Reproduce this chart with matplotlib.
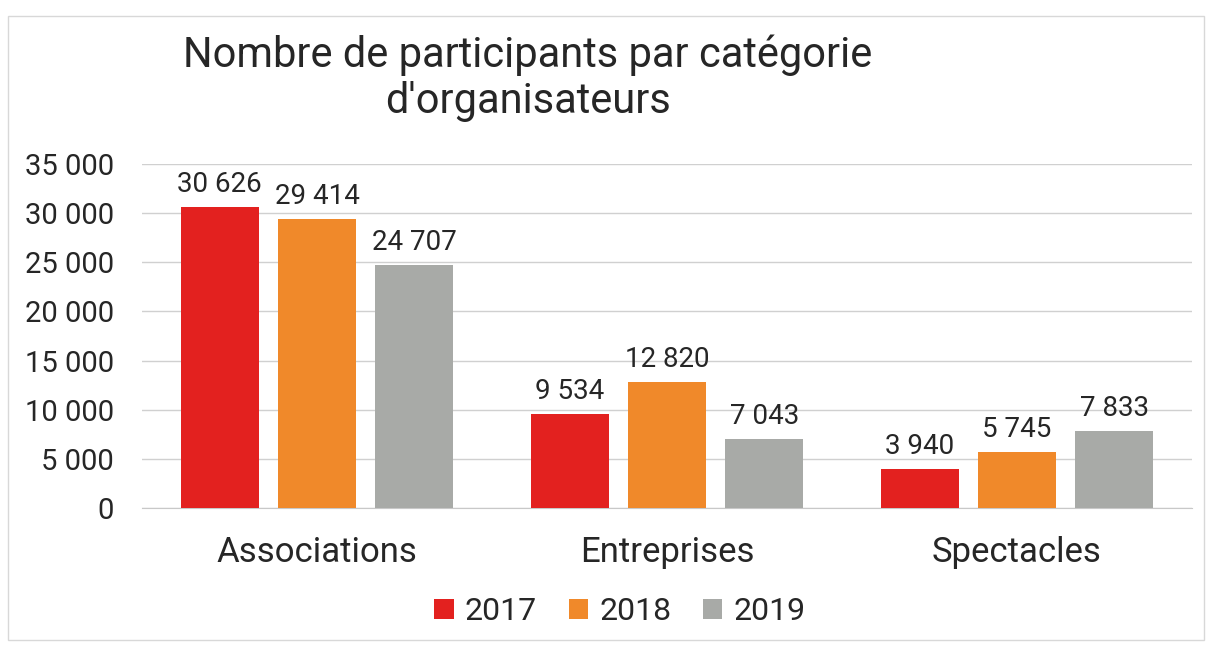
import matplotlib
matplotlib.use("Agg")
import matplotlib.pyplot as plt
import numpy as np
from matplotlib.patches import Rectangle

categories = ["Associations", "Entreprises", "Spectacles"]
years = ["2017", "2018", "2019"]
v2017 = [30626, 9534, 3940]
v2018 = [29414, 12820, 5745]
v2019 = [24707, 7043, 7833]
yticks = [0, 5000, 10000, 15000, 20000, 25000, 30000, 35000]

colors = ["#e3211f", "#f0892a", "#a8aaa7"]
font = "Roboto"

def fmt(v):
    return f"{v:,}".replace(",", " ")

fig = plt.figure(figsize=(12.12, 6.53), dpi=100)
fig.patches.append(Rectangle((8/1212, 1-640/653), 1196/1212, 624/653, transform=fig.transFigure,
                             fill=False, edgecolor="#d8d8d8", linewidth=1.0))
ax = fig.add_axes([142/1212, 1-508/653, 1050/1212, 344/653])

x = np.arange(len(categories))
w = 0.223
step = 0.278
series = [v2017, v2018, v2019]
for i, (vals, c, yr) in enumerate(zip(series, colors, years)):
    bars = ax.bar(x + (i - 1) * step, vals, width=w, color=c, label=yr, zorder=3)
    for b, v in zip(bars, vals):
        ax.text(b.get_x() + b.get_width() / 2, v + 900, fmt(v), ha="center", va="bottom",
                fontsize=20, family=font, color="#262626")

ax.set_xlim(-0.5, 2.5)
ax.set_ylim(0, 35000)
ax.set_yticks(yticks)
ax.set_yticklabels([fmt(t) for t in yticks], fontsize=21, family=font, color="#262626")
ax.set_xticks(x)
ax.set_xticklabels(categories, fontsize=25, family=font, color="#262626")
ax.tick_params(axis="both", length=0)
ax.tick_params(axis="y", pad=20)
ax.tick_params(axis="x", pad=20)
ax.yaxis.grid(True, color="#d0d0d0", linewidth=1.0, zorder=0)
for s in ["top", "right", "left"]:
    ax.spines[s].set_visible(False)
ax.spines["bottom"].set_color("#c8c8c8")

fig.text(528/1212, 1-78/653, "Nombre de participants par catégorie\nd'organisateurs", ha="center", va="center",
         fontsize=30, family=font, color="#262626", linespacing=1.15)

leg = fig.legend(loc="center", bbox_to_anchor=(620/1212, 1-612/653), ncol=3, frameon=False,
                 prop={"family": font, "size": 23}, handlelength=0.6, handleheight=0.6,
                 handletextpad=0.35, columnspacing=1.0)
for t in leg.get_texts():
    t.set_color("#262626")

fig.savefig("out.png", dpi=100)
